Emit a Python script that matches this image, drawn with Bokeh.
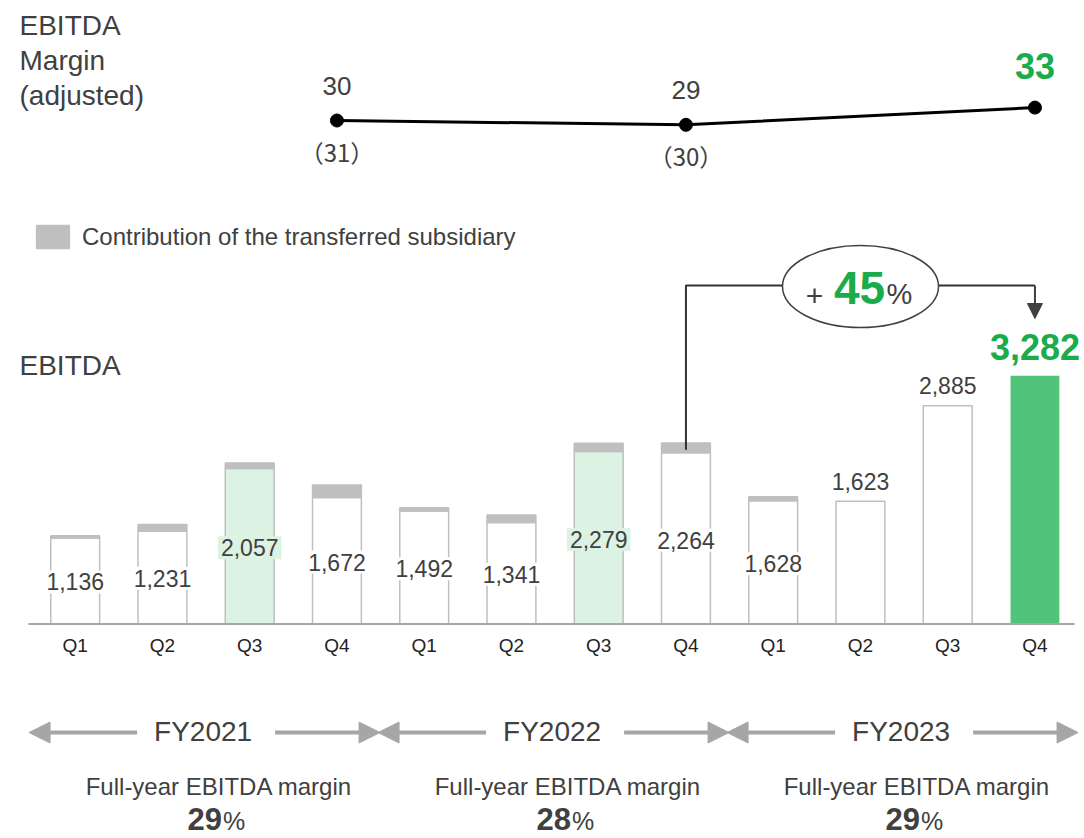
from bokeh.plotting import figure
from bokeh.models import (Range1d, ColumnDataSource, Arrow, NormalHead,
                          Legend, LegendItem)
from bokeh.core.properties import value
from bokeh.embed import file_html
from bokeh.resources import INLINE

# ---------------------------------------------------------------- data
quarters = ["Q1", "Q2", "Q3", "Q4"] * 3
fiscal_years = ["FY2021", "FY2022", "FY2023"]
ebitda = [1136, 1231, 2057, 1672, 1492, 1341, 2279, 2264, 1628, 1623, 2885, 3282]
subsidiary = [30, 85, 70, 165, 45, 100, 110, 130, 55, 0, 0, 0]
margin_adjusted = [30, 29, 33]          # Q4 of each fiscal year
margin_reported = [31, 30]              # shown in brackets below the line
full_year_margin = [29, 28, 29]
yoy_growth = 45

# ---------------------------------------------------------------- styling
W, H = 1084, 838
FONT = "Liberation Sans"
TXT = "#404040"
GREEN = "#1aab4b"
BAR_GREEN = "#52c47a"
PALE_GREEN = "#dcf2e3"
GREY = "#bfbfbf"
ARROW_GREY = "#a6a6a6"
highlighted = {2, 6}
latest = len(ebitda) - 1

# pixel <-> data helpers (pixels measured from the top-left corner)
STEP = 87.25      # px between bar centres
X0 = 74.7         # px of the first bar centre
BASE = 623.5      # px of the zero line
UPP = 13.22       # EBITDA units per px


def xd(px):
    return (px - X0) / STEP


def yd(py):
    return (BASE - py) * UPP


M_REF, M_PX, M_SCALE = 30, 120.0, 4.3   # margin line scale


def md(py):
    return M_REF + (M_PX - py) / M_SCALE


p = figure(width=W, height=H, x_range=Range1d(xd(0), xd(W)),
           y_range=Range1d(yd(H), yd(0)), output_backend="svg",
           toolbar_location=None, x_axis_type=None, y_axis_type=None,
           min_border=0, outline_line_color=None,
           background_fill_color="white", border_fill_color="white")
p.extra_y_ranges = {"margin": Range1d(md(H), md(0))}

txt = dict(text_font=value(FONT), text_color=TXT, text_baseline="middle")

# ---------------------------------------------------------------- bars
idx = list(range(len(ebitda)))
fills = [BAR_GREEN if i == latest else PALE_GREEN if i in highlighted else "white"
         for i in idx]
lines = [None if i == latest else GREY for i in idx]
bars = ColumnDataSource(dict(x=idx, top=ebitda, fill=fills, line=lines))
p.vbar(x="x", top="top", bottom=0, width=0.56, fill_color="fill",
       line_color="line", line_width=1.5, source=bars)

sub_idx = [i for i in idx if subsidiary[i] > 0]
sub_src = ColumnDataSource(dict(
    x=sub_idx,
    bottom=[ebitda[i] for i in sub_idx],
    top=[ebitda[i] + subsidiary[i] for i in sub_idx]))
sub_r = p.vbar(x="x", bottom="bottom", top="top", width=0.56,
               fill_color=GREY, line_color=GREY, line_width=1.5, source=sub_src)

# zero line
p.line(x=[xd(28), xd(1074)], y=[0, 0], line_color=ARROW_GREY, line_width=2)

# value labels inside bars (bars carrying a subsidiary share)
inside = ColumnDataSource(dict(
    x=sub_idx,
    y=[ebitda[i] * 0.49 for i in sub_idx],
    label=[f"{ebitda[i]:,}" for i in sub_idx],
    bg=[fills[i] for i in sub_idx]))
p.text(x="x", y="y", text="label", source=inside, text_align="center",
       text_font_size="23px", background_fill_color="bg", padding=3, **txt)

# value labels above the other bars
above_idx = [i for i in idx if subsidiary[i] == 0 and i != latest]
above = ColumnDataSource(dict(
    x=above_idx,
    y=[ebitda[i] + 20 * UPP for i in above_idx],
    label=[f"{ebitda[i]:,}" for i in above_idx]))
p.text(x="x", y="y", text="label", source=above, text_align="center",
       text_font_size="23px", **txt)

p.text(x=[latest], y=[ebitda[latest] + 29 * UPP], text=[f"{ebitda[latest]:,}"],
       text_align="center", text_baseline="middle", text_font_size="36px",
       text_font_style="bold", text_font=value(FONT), text_color=GREEN)

# quarter labels
p.text(x=idx, y=[yd(645)] * len(idx), text=quarters, text_align="center",
       text_baseline="middle", text_font_size="19px",
       text_font=value(FONT), text_color="#222222")

# ---------------------------------------------------------------- legend
legend = Legend(items=[LegendItem(label="Contribution of the transferred subsidiary",
                                  renderers=[sub_r])],
                location=(32, H - 251), glyph_width=41, glyph_height=29,
                label_text_font_size="24px", label_text_color=TXT,
                label_text_font=FONT, border_line_color=None,
                background_fill_alpha=0, padding=0, margin=0,
                label_standoff=9, label_height=29)
p.add_layout(legend)

# ---------------------------------------------------------------- growth callout
prev_q4 = latest - 4
y_bracket = yd(285)
p.line(x=[prev_q4, prev_q4, latest],
       y=[ebitda[prev_q4] + subsidiary[prev_q4] * 0.3, y_bracket, y_bracket],
       line_color="#333333", line_width=2)
p.add_layout(Arrow(end=NormalHead(size=15, fill_color="#404040", line_color="#404040"),
                   x_start=latest, y_start=y_bracket, x_end=latest, y_end=yd(318),
                   line_color="#404040", line_width=2))
p.ellipse(x=[xd(860)], y=[yd(286)], width=156, height=82, width_units="screen",
          height_units="screen", fill_color="white", line_color="#404040",
          line_width=1.5)
p.text(x=[xd(814)], y=[yd(295)], text=["+"], text_align="center",
       text_font_size="30px", **txt)
p.text(x=[xd(859)], y=[yd(287)], text=[str(yoy_growth)], text_align="center",
       text_baseline="middle", text_font_size="46px", text_font_style="bold",
       text_font=value(FONT), text_color=GREEN)
p.text(x=[xd(886)], y=[yd(293)], text=["%"], text_align="left",
       text_font_size="29px", **txt)

# ---------------------------------------------------------------- titles
for label, py in [("EBITDA", 25), ("Margin", 60), ("(adjusted)", 95)]:
    p.text(x=[xd(19)], y=[yd(py)], text=[label], text_align="left",
           text_font_size="28px", **txt)
p.text(x=[xd(19)], y=[yd(365)], text=["EBITDA"], text_align="left",
       text_font_size="28px", **txt)

# ---------------------------------------------------------------- margin line
q4_idx = [4 * g + 3 for g in range(len(fiscal_years))]
p.line(x=q4_idx, y=margin_adjusted, y_range_name="margin",
       line_color="black", line_width=3)
p.scatter(x=q4_idx, y=margin_adjusted, y_range_name="margin",
          size=13, fill_color="black", line_color="black")
p.text(x=q4_idx[:-1], y=[v + 35 / M_SCALE for v in margin_adjusted[:-1]],
       text=[str(v) for v in margin_adjusted[:-1]], y_range_name="margin",
       text_align="center", text_font_size="26px", **txt)
p.text(x=q4_idx[:len(margin_reported)],
       y=[v - 31 / M_SCALE for v in margin_adjusted[:len(margin_reported)]],
       text=[f"（{v}）" for v in margin_reported], y_range_name="margin",
       text_align="center", text_font_size="24px", text_baseline="middle",
       text_font=value("Noto Sans CJK JP"), text_color=TXT)
p.text(x=[q4_idx[-1]], y=[margin_adjusted[-1] + 42 / M_SCALE],
       text=[str(margin_adjusted[-1])], y_range_name="margin",
       text_align="center", text_baseline="middle", text_font_size="36px",
       text_font_style="bold", text_font=value(FONT), text_color=GREEN)

# ---------------------------------------------------------------- fiscal years
for g, fy in enumerate(fiscal_years):
    c = 4 * g + 1.5
    p.text(x=[c - 3 / STEP], y=[yd(731)], text=[fy], text_align="center",
           text_font_size="28px", **txt)
    for start, end in [(-69, -177), (69, 174)]:
        p.add_layout(Arrow(end=NormalHead(size=21, fill_color=ARROW_GREY,
                                          line_color=ARROW_GREY),
                           x_start=c + start / STEP, y_start=yd(732),
                           x_end=c + end / STEP, y_end=yd(732),
                           line_color=ARROW_GREY, line_width=4))
    p.text(x=[c + 13 / STEP], y=[yd(786)], text=["Full-year EBITDA margin"],
           text_align="center", text_font_size="24px", **txt)
    p.text(x=[c + 16 / STEP], y=[yd(818)], text=[str(full_year_margin[g])],
           text_align="right", text_font_size="31px",
           text_font_style="bold", **txt)
    p.text(x=[c + 17 / STEP], y=[yd(820)], text=["%"], text_align="left",
           text_font_size="25px", **txt)

open("out.html", "w").write(file_html(p, INLINE))
